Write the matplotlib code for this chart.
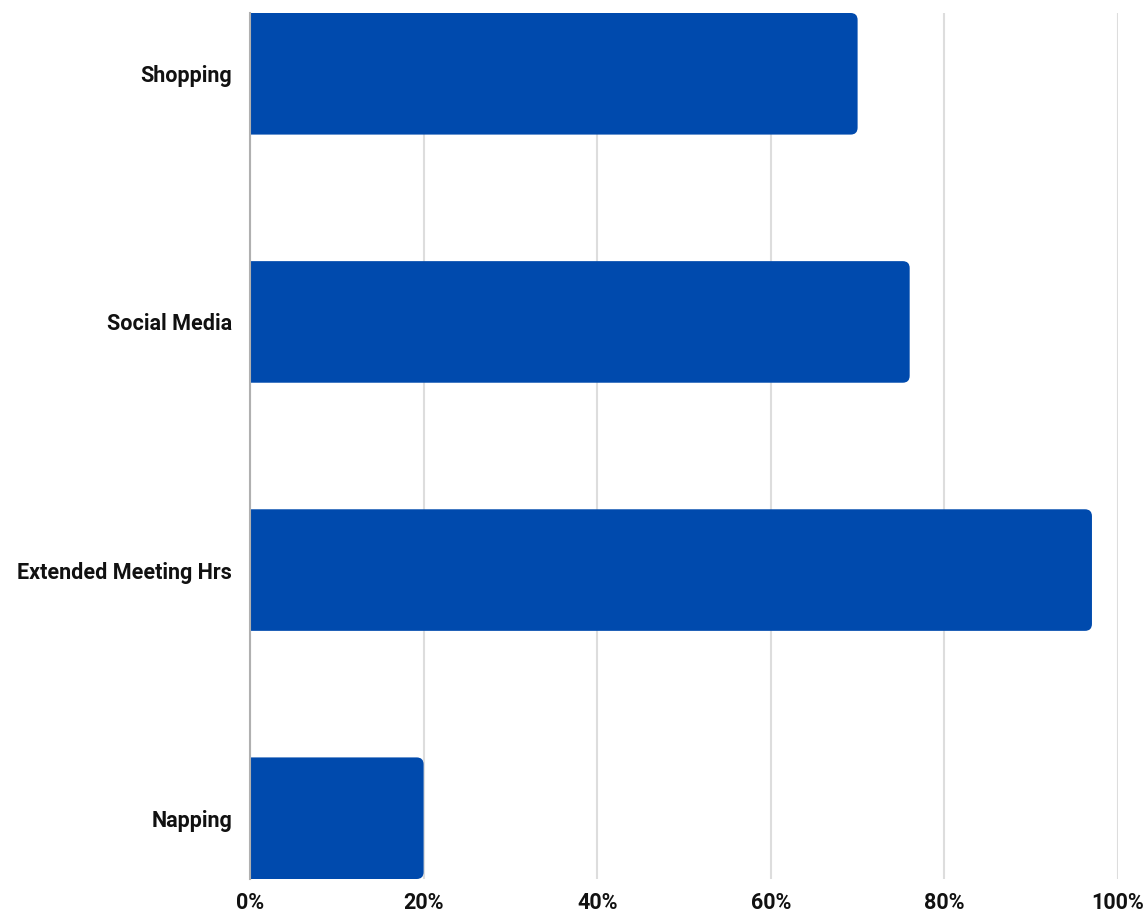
import matplotlib.pyplot as plt
from matplotlib.patches import PathPatch
from matplotlib.path import Path
from matplotlib.ticker import FuncFormatter

categories = ["Shopping", "Social Media", "Extended Meeting Hrs", "Napping"]
values = [70, 76, 97, 20]
x_ticks = [0, 20, 40, 60, 80, 100]

bar_color = "#004AAD"
bar_h = 0.49

plt.rcParams['font.family'] = ['Roboto', 'DejaVu Sans']


def right_rounded_bar(y, v, h, rx, ry):
    # bar from x=0 to v, square on the left, rounded on the right
    y0, y1 = y - h / 2, y + h / 2
    verts = [(0, y0), (v - rx, y0), (v, y0), (v, y0 + ry),
             (v, y1 - ry), (v, y1), (v - rx, y1), (0, y1), (0, y0)]
    codes = [Path.MOVETO, Path.LINETO, Path.CURVE3, Path.CURVE3,
             Path.LINETO, Path.CURVE3, Path.CURVE3, Path.LINETO, Path.CLOSEPOLY]
    return Path(verts, codes)


fig = plt.figure(figsize=(11.46, 9.13), dpi=100)
ax = fig.add_axes([250 / 1146, 1 - 879 / 913, (1118 - 250) / 1146, (879 - 13) / 913])

ax.set_xlim(0, 100)
ax.set_ylim(len(categories) - 1 + bar_h / 2, -bar_h / 2)

# ~7 px corner radius in data units
rx = 0.8
ry = 0.028
for i, v in enumerate(values):
    ax.add_patch(PathPatch(right_rounded_bar(i, v, bar_h, rx, ry),
                           facecolor=bar_color, edgecolor="none", zorder=3))

ax.set_yticks(range(len(categories)))
ax.set_yticklabels(categories)
ax.set_xticks(x_ticks)
ax.xaxis.set_major_formatter(FuncFormatter(lambda x, p: f"{x:.0f}%"))

ax.grid(axis="x", color="#dddddd", linewidth=1.5, zorder=0)
ax.set_axisbelow(True)
for s in ["top", "right", "bottom"]:
    ax.spines[s].set_visible(False)
ax.spines["left"].set_color("#b0b0b0")
ax.spines["left"].set_linewidth(1.5)
ax.spines["left"].set_zorder(4)

ax.tick_params(axis="both", length=0, labelsize=15.5)
ax.tick_params(axis="y", pad=13)
ax.tick_params(axis="x", pad=9)
for lab in ax.get_xticklabels() + ax.get_yticklabels():
    lab.set_fontweight("bold")
    lab.set_color("#111111")

fig.savefig("out.png", dpi=100)
